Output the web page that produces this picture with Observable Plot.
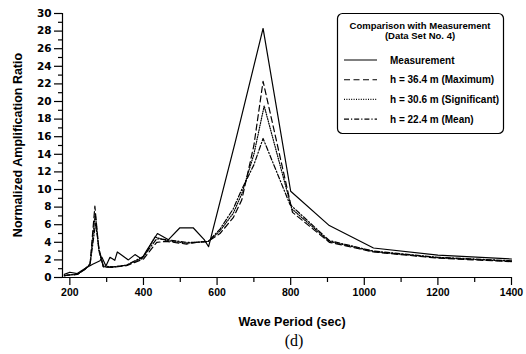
<!DOCTYPE html>
<html><head><meta charset="utf-8">
<script src="https://cdn.jsdelivr.net/npm/d3@7"></script>
<script src="https://cdn.jsdelivr.net/npm/@observablehq/plot@0.6"></script>
<style>
body{margin:0;background:#fff}
svg{font-family:"Liberation Sans",Arial,sans-serif}
</style>
</head><body><div id="chart"></div>
<script>
// ---- data ----
const measX = [185, 200, 220, 240, 262, 282, 287, 298, 309, 322, 329, 359, 377, 395, 409, 438, 468, 499, 535, 565, 577, 650, 725, 800, 905, 1025, 1200, 1400];
const measY = [0.35, 0.6, 0.45, 1.0, 1.5, 1.9, 2.3, 1.3, 2.3, 1.95, 2.9, 2.0, 2.6, 2.1, 3.1, 5.0, 4.3, 5.65, 5.65, 4.3, 3.5, 15.5, 28.3, 9.8, 5.9, 3.35, 2.55, 2.1];

const maxX = [185, 200, 220, 240, 255, 268, 278, 291, 318, 354, 400, 436, 463, 517, 544, 576, 608, 644, 667, 700, 725, 805, 905, 1025, 1200, 1400];
const maxY = [0.2, 0.3, 0.35, 0.9, 1.6, 8.1, 3.5, 1.2, 1.15, 1.35, 2.1, 4.0, 4.1, 3.8, 4.0, 4.1, 5.0, 6.8, 8.8, 15.0, 22.3, 7.4, 4.0, 2.9, 2.2, 1.8];

const sigX = [185, 200, 220, 240, 255, 269, 279, 291, 318, 354, 400, 431, 463, 517, 544, 576, 608, 644, 667, 700, 728, 803, 905, 1025, 1200, 1400];
const sigY = [0.2, 0.3, 0.35, 0.9, 1.5, 7.3, 3.0, 1.2, 1.2, 1.4, 2.3, 4.6, 4.2, 3.9, 4.0, 4.1, 5.3, 7.3, 9.5, 14.0, 19.5, 7.8, 4.1, 2.95, 2.25, 1.85];

const meanX = [185, 200, 220, 240, 255, 270, 280, 291, 318, 354, 400, 436, 463, 517, 544, 576, 608, 644, 667, 700, 725, 798, 905, 1025, 1200, 1400];
const meanY = [0.2, 0.3, 0.35, 0.9, 1.5, 6.2, 3.0, 1.3, 1.2, 1.4, 2.4, 4.4, 4.3, 4.0, 4.0, 4.1, 5.5, 7.8, 10.0, 12.8, 15.8, 8.3, 4.2, 3.0, 2.3, 1.9];

const seriesNames = ["Measurement", "h = 36.4 m (Maximum)", "h = 30.6 m (Significant)", "h = 22.4 m (Mean)"];
const seriesDash = ["none", "6,3.5", "1,1.4", "5,2,1.2,2"];

const xTicks = [200, 400, 600, 800, 1000, 1200, 1400];
const xMinor = [300, 500, 700, 900, 1100, 1300];
const yTicks = d3.range(0, 31, 2);
const yMinor = d3.range(1, 30, 2);

const legendTitle = ["Comparison with Measurement", "(Data Set No. 4)"];
const xTitle = "Wave Period (sec)";
const yTitle = "Normalized Amplification Ratio";
const caption = "(d)";

// ---- build tables ----
const series = [[measX, measY], [maxX, maxY], [sigX, sigY], [meanX, meanY]]
  .map(([xs, ys], i) => xs.map((x, j) => ({period: x, ratio: ys[j], name: seriesNames[i]})));

const W = 526, H = 354;
const chart = Plot.plot({
  width: W, height: H,
  marginTop: 13, marginRight: 15, marginBottom: 77, marginLeft: 62,
  style: {fontFamily: '"Liberation Sans", Arial, sans-serif', color: "#000", background: "#fff"},
  x: {domain: [180, 1400]},
  y: {domain: [0, 30]},
  marks: [
    Plot.ruleX([180], {stroke: "#000", strokeWidth: 1.2}),
    Plot.ruleY([0], {stroke: "#000", strokeWidth: 1.2}),
    Plot.axisX({ticks: xTicks, tickFormat: d => String(d), tickSize: 8, tickPadding: 3, fontSize: 10.5, fontWeight: "bold", label: null, strokeWidth: 1.2}),
    Plot.axisX(xMinor, {tickSize: 5, text: null, label: null, strokeWidth: 1.2}),
    Plot.axisY({ticks: yTicks, tickFormat: d => String(d), tickSize: 8, tickPadding: 3, fontSize: 10.5, fontFamily: '"DejaVu Sans", sans-serif', fontWeight: "bold", label: null, strokeWidth: 1.2}),
    Plot.axisY(yMinor, {tickSize: 4, text: null, label: null, strokeWidth: 1.2}),
    ...series.map((rows, i) => Plot.line(rows, {
      x: "period", y: "ratio", stroke: "#000", strokeWidth: 1.2,
      strokeDasharray: seriesDash[i] === "none" ? undefined : seriesDash[i]
    }))
  ]
});
document.getElementById("chart").appendChild(chart);

// ---- titles and legend ----
const svg = d3.select(chart);
svg.append("text").attr("x", 292).attr("y", 326).attr("text-anchor", "middle")
  .attr("font-size", 12.5).attr("font-weight", "bold").text(xTitle);
svg.append("text").attr("transform", "translate(22,145) rotate(-90)").attr("text-anchor", "middle")
  .attr("font-size", 12.5).attr("font-weight", "bold").text(yTitle);
svg.append("text").attr("x", 294).attr("y", 346).attr("text-anchor", "middle")
  .attr("font-family", '"Liberation Serif","DejaVu Serif",serif').attr("font-size", 16).text(caption);

const lg = svg.append("g").attr("text-anchor", "start");
lg.append("rect").attr("x", 337.5).attr("y", 13.5).attr("width", 166).attr("height", 120)
  .attr("rx", 5).attr("fill", "#fff").attr("stroke", "#000").attr("stroke-width", 1.2);
legendTitle.forEach((t, i) => lg.append("text").attr("x", 420).attr("y", 28.5 + i * 10.5)
  .attr("text-anchor", "middle").attr("font-size", 9.5).attr("font-weight", "bold").text(t));
seriesNames.forEach((n, i) => {
  const yy = 60 + i * 19.7;
  lg.append("line").attr("x1", 344).attr("x2", 377).attr("y1", yy).attr("y2", yy)
    .attr("stroke", "#000").attr("stroke-width", 1.1)
    .attr("stroke-dasharray", seriesDash[i] === "none" ? null : seriesDash[i]);
  lg.append("text").attr("x", 390).attr("y", yy + 3.5).attr("text-anchor", "start")
    .attr("font-size", 10).attr("font-weight", "bold").text(n);
});
</script>
</body></html>
